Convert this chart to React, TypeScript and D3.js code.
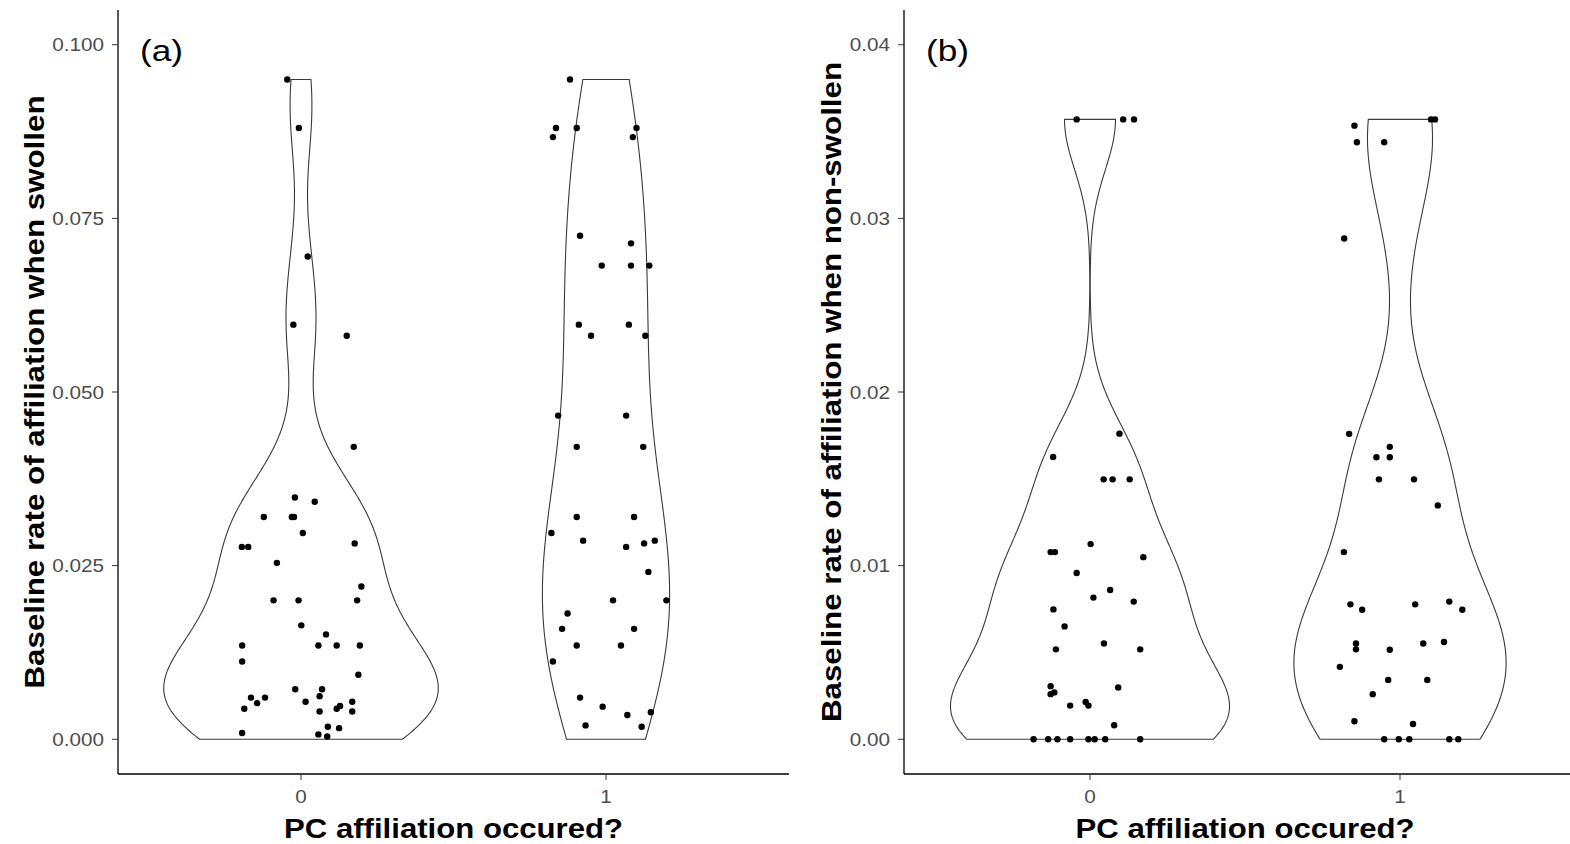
import React from "react";
import * as d3 from "d3";

// ---------- DATA ----------
const categories = ["0", "1"];

// Panel (a): baseline rate of affiliation when swollen
const swollenNoValues = [0.095, 0.088, 0.0695, 0.0597, 0.0581, 0.0421, 0.0348, 0.0342, 0.032, 0.032, 0.032, 0.0297, 0.0277, 0.0277, 0.0282, 0.0254, 0.022, 0.02, 0.02, 0.02, 0.0164, 0.0151, 0.0135, 0.0135, 0.0135, 0.0135, 0.0112, 0.0093, 0.0072, 0.0072, 0.006, 0.006, 0.0062, 0.0052, 0.0054, 0.0054, 0.0044, 0.0044, 0.0048, 0.004, 0.004, 0.0009, 0.0018, 0.0016, 0.0007, 0.0004];
const swollenNoJitter = [-0.045, -0.007, 0.022, -0.025, 0.15, 0.173, -0.02, 0.045, -0.122, -0.03, -0.023, 0.006, -0.194, -0.173, 0.176, -0.079, 0.198, -0.09, -0.008, 0.184, 0.001, 0.082, -0.193, 0.057, 0.117, 0.193, -0.193, 0.188, -0.019, 0.069, -0.164, -0.118, 0.061, -0.144, 0.015, 0.168, -0.186, 0.117, 0.128, 0.061, 0.168, -0.193, 0.088, 0.125, 0.057, 0.086];
const swollenYesValues = [0.095, 0.088, 0.088, 0.088, 0.0867, 0.0867, 0.0725, 0.0714, 0.0682, 0.0682, 0.0682, 0.0597, 0.0597, 0.0581, 0.0581, 0.0466, 0.0466, 0.0421, 0.0421, 0.032, 0.032, 0.0297, 0.0286, 0.0277, 0.0282, 0.0286, 0.0241, 0.02, 0.02, 0.0181, 0.0159, 0.0159, 0.0135, 0.0135, 0.0112, 0.006, 0.0047, 0.0035, 0.0039, 0.002, 0.0018];
const swollenYesJitter = [-0.118, -0.164, -0.096, 0.1, -0.174, 0.088, -0.085, 0.082, -0.014, 0.082, 0.142, -0.089, 0.075, -0.049, 0.129, -0.157, 0.066, -0.096, 0.122, -0.096, 0.092, -0.179, -0.075, 0.066, 0.125, 0.16, 0.139, 0.023, 0.198, -0.126, -0.144, 0.092, -0.096, 0.049, -0.174, -0.085, -0.011, 0.07, 0.147, -0.067, 0.117];

// Panel (b): baseline rate of affiliation when non-swollen
const nonSwollenNoValues = [0.0357, 0.0357, 0.0357, 0.0176, 0.01626, 0.01497, 0.01497, 0.01497, 0.01124, 0.01078, 0.01078, 0.01049, 0.00958, 0.0086, 0.00816, 0.00793, 0.00748, 0.0065, 0.00552, 0.00518, 0.00518, 0.00306, 0.00298, 0.0026, 0.0027, 0.00194, 0.00215, 0.00194, 0.00081, 0, 0, 0, 0, 0, 0, 0, 0];
const nonSwollenNoJitter = [-0.043, 0.107, 0.142, 0.095, -0.119, 0.044, 0.073, 0.128, 0.002, -0.127, -0.113, 0.172, -0.043, 0.065, 0.011, 0.141, -0.118, -0.082, 0.045, -0.11, 0.162, -0.127, 0.091, -0.127, -0.115, -0.064, -0.014, -0.005, 0.078, -0.182, -0.135, -0.105, -0.064, -0.005, 0.015, 0.049, 0.162];
const nonSwollenYesValues = [0.0357, 0.0357, 0.03534, 0.03438, 0.03438, 0.02884, 0.01759, 0.01684, 0.01624, 0.01624, 0.01497, 0.01497, 0.01347, 0.01078, 0.00777, 0.00746, 0.00777, 0.00793, 0.00746, 0.00552, 0.00518, 0.00516, 0.00552, 0.0056, 0.00417, 0.00342, 0.00342, 0.0026, 0.00104, 0.00088, 0, 0, 0, 0, 0];
const nonSwollenYesJitter = [0.1, 0.113, -0.147, -0.139, -0.051, -0.18, -0.164, -0.033, -0.076, -0.033, -0.068, 0.045, 0.122, -0.181, -0.16, -0.122, 0.049, 0.159, 0.201, -0.142, -0.142, -0.033, 0.075, 0.142, -0.194, -0.038, 0.088, -0.088, -0.147, 0.042, -0.051, -0.004, 0.03, 0.159, 0.188];

const ticksA = [0, 0.025, 0.05, 0.075, 0.1];
const ticksB = [0, 0.01, 0.02, 0.03, 0.04];

// ---------- HELPERS ----------
function kde(values: number[], lo: number, hi: number, adjust = 1, n = 512) {
  const sorted = values.slice().sort(d3.ascending);
  const sd = d3.deviation(sorted) as number;
  const iqr = (d3.quantile(sorted, 0.75) as number) - (d3.quantile(sorted, 0.25) as number);
  const spread = Math.min(sd, iqr / 1.34);
  const bw = adjust * 0.9 * spread * Math.pow(sorted.length, -0.2);
  const norm = 1 / (Math.sqrt(2 * Math.PI) * bw * sorted.length);
  return d3.range(n).map((i) => {
    const y = lo + ((hi - lo) * i) / (n - 1);
    let s = 0;
    for (const v of sorted) {
      const z = (y - v) / bw;
      s += Math.exp(-0.5 * z * z);
    }
    return { y, d: s * norm };
  });
}

const FONT = "'Liberation Sans', Arial, sans-serif";

type PanelProps = {
  left: number;
  right: number;
  top: number;
  bottom: number;
  yDomain: [number, number];
  ticks: number[];
  fmt: (v: number) => string;
  groups: { values: number[]; jitter: number[]; adjust: number }[];
  tag: string;
  yTitle: string;
  yTitleX: number;
  yTitleLen: number;
};

function Panel(p: PanelProps) {
  const x = d3.scaleLinear().domain([0.4, 2.6]).range([p.left, p.right]);
  const y = d3.scaleLinear().domain(p.yDomain).range([p.bottom, p.top]);
  const dens = p.groups.map((g) => kde(g.values, 0, d3.max(g.values) as number, g.adjust));
  const maxD = d3.max(dens.flat(), (d) => d.d) as number;
  const unit = x(2) - x(1);
  const midY = (p.top + p.bottom) / 2;
  const midX = (p.left + p.right) / 2;

  return (
    <g>
      {dens.map((den, gi) => {
        const cx = x(gi + 1);
        const hw = (d: { d: number }) => (0.45 * unit * d.d) / maxD;
        const pts: [number, number][] = [
          ...den.map((d) => [cx + hw(d), y(d.y)] as [number, number]),
          ...den
            .slice()
            .reverse()
            .map((d) => [cx - hw(d), y(d.y)] as [number, number]),
        ];
        const path = d3.line()(pts) + "Z";
        return <path key={"v" + gi} d={path} fill="white" stroke="#3a3a3a" strokeWidth={1.1} />;
      })}
      {p.groups.map((g, gi) =>
        g.values.map((v, i) => (
          <circle key={gi + "-" + i} cx={x(gi + 1 + g.jitter[i])} cy={y(v)} r={3.2} fill="#000" />
        ))
      )}
      <line x1={p.left} x2={p.left} y1={p.top} y2={p.bottom} stroke="#000" strokeWidth={1.3} />
      <line x1={p.left} x2={p.right} y1={p.bottom} y2={p.bottom} stroke="#000" strokeWidth={1.3} />
      {p.ticks.map((t) => (
        <g key={"yt" + t}>
          <line x1={p.left - 6} x2={p.left} y1={y(t)} y2={y(t)} stroke="#333" strokeWidth={1} />
          <text
            transform={`translate(${p.left - 14},${y(t) + 6.5}) scale(1.15,1)`}
            textAnchor="end"
            fontFamily={FONT}
            fontSize={18}
            fill="#4d4d4d"
          >
            {p.fmt(t)}
          </text>
        </g>
      ))}
      {categories.map((c, ci) => (
        <g key={"xt" + c}>
          <line x1={x(ci + 1)} x2={x(ci + 1)} y1={p.bottom} y2={p.bottom + 6} stroke="#333" strokeWidth={1} />
          <text
            transform={`translate(${x(ci + 1)},${p.bottom + 29}) scale(1.15,1)`}
            textAnchor="middle"
            fontFamily={FONT}
            fontSize={18}
            fill="#4d4d4d"
          >
            {c}
          </text>
        </g>
      ))}
      <text
        x={midX}
        y={838}
        textAnchor="middle"
        fontFamily={FONT}
        fontWeight="bold"
        fontSize={27}
        textLength={339}
        lengthAdjust="spacingAndGlyphs"
        fill="#000"
      >
        PC affiliation occured?
      </text>
      <text
        transform={`translate(${p.yTitleX},${midY}) rotate(-90)`}
        textAnchor="middle"
        fontFamily={FONT}
        fontWeight="bold"
        fontSize={27}
        textLength={p.yTitleLen}
        lengthAdjust="spacingAndGlyphs"
        fill="#000"
      >
        {p.yTitle}
      </text>
      <text
        x={p.left + 22}
        y={61}
        fontFamily={FONT}
        fontSize={30}
        textLength={43}
        lengthAdjust="spacingAndGlyphs"
        fill="#000"
      >
        {p.tag}
      </text>
    </g>
  );
}

export default function App() {
  return (
    <svg
      width={1570}
      height={844}
      style={{ position: "absolute", left: 0, top: 0, background: "#fff" }}
    >
      <rect x={0} y={0} width={1570} height={844} fill="#fff" />
      <Panel
        left={118}
        right={789}
        top={10}
        bottom={774}
        yDomain={[-0.005, 0.105]}
        ticks={ticksA}
        fmt={d3.format(".3f")}
        groups={[
          { values: swollenNoValues, jitter: swollenNoJitter, adjust: 1 },
          { values: swollenYesValues, jitter: swollenYesJitter, adjust: 1.2 },
        ]}
        tag="(a)"
        yTitle="Baseline rate of affiliation when swollen"
        yTitleX={44}
        yTitleLen={593}
      />
      <Panel
        left={904}
        right={1586}
        top={10}
        bottom={774}
        yDomain={[-0.002, 0.042]}
        ticks={ticksB}
        fmt={d3.format(".2f")}
        groups={[
          { values: nonSwollenNoValues, jitter: nonSwollenNoJitter, adjust: 1 },
          { values: nonSwollenYesValues, jitter: nonSwollenYesJitter, adjust: 1 },
        ]}
        tag="(b)"
        yTitle="Baseline rate of affiliation when non-swollen"
        yTitleX={841}
        yTitleLen={660}
      />
    </svg>
  );
}
